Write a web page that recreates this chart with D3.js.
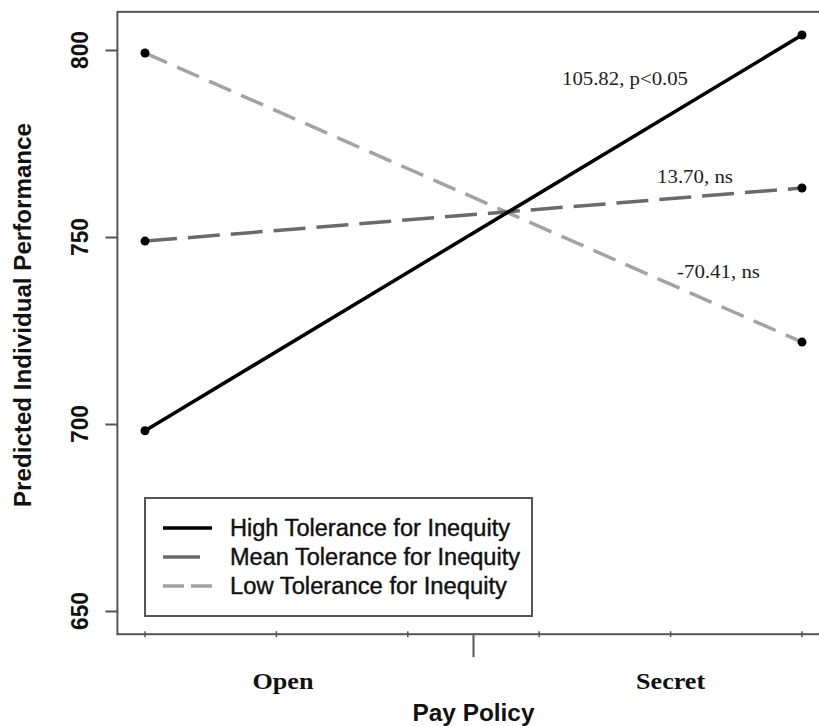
<!DOCTYPE html>
<html>
<head>
<meta charset="utf-8">
<script src="https://cdn.jsdelivr.net/npm/d3@7"></script>
<style>
  body { margin: 0; background: #fff; }
  #chart { width: 819px; height: 726px; }
</style>
</head>
<body>
<div id="chart"></div>
<script>
// data
const policies = ["Open", "Secret"];
const groups = ["High Tolerance for Inequity", "Mean Tolerance for Inequity", "Low Tolerance for Inequity"];
const highVals = [698.2, 804.0];
const meanVals = [748.9, 763.1];
const lowVals = [799.2, 721.9];
const slopeLabels = ["105.82, p<0.05", "13.70, ns", "-70.41, ns"];
const yTicks = [650, 700, 750, 800];
const xMinorTicks = [0, 0.2, 0.4, 0.6, 0.8, 1];

const width = 819;
const height = 726;

const svg = d3.select("#chart")
    .append("svg")
    .attr("width", width)
    .attr("height", height);

/*
SCALES (x: 0 = Open, 1 = Secret)
*/
const xScale = d3.scaleLinear()
    .domain([0, 1])
    .range([145, 802]);

const yScale = d3.scaleLinear()
    .domain([650, 800])
    .range([611, 50]);

const axisGrey = "#555";
const sans = "Liberation Sans, Arial, sans-serif";
const serif = "Liberation Serif, Times New Roman, serif";

/*
PLOT FRAME
*/
const x0 = xScale(-0.042), x1 = xScale(1.04);
const y0 = yScale(810.2), y1 = yScale(643.8);

svg.append("rect")
    .attr("x", x0)
    .attr("y", y0)
    .attr("width", x1 - x0)
    .attr("height", y1 - y0)
    .attr("fill", "none")
    .attr("stroke", axisGrey)
    .attr("stroke-width", 2);

/*
Y AXIS
*/
const yAxis = svg.append("g")
    .attr("transform", `translate(${x0},0)`)
    .call(d3.axisLeft(yScale).tickValues(yTicks).tickSize(12).tickFormat(""));
yAxis.select(".domain").remove();
yAxis.selectAll("line").attr("stroke", axisGrey).attr("stroke-width", 2);

svg.selectAll(".ytick-label")
    .data(yTicks)
    .enter()
    .append("text")
    .attr("class", "ytick-label")
    .attr("transform", d => `translate(88,${yScale(d)}) rotate(-90)`)
    .attr("text-anchor", "middle")
    .attr("font-family", sans)
    .attr("font-weight", "bold")
    .attr("font-size", 23)
    .attr("textLength", 38)
    .attr("lengthAdjust", "spacingAndGlyphs")
    .attr("fill", "#111")
    .text(d => d);

svg.append("text")
    .attr("transform", "translate(31,315) rotate(-90)")
    .attr("text-anchor", "middle")
    .attr("font-family", sans)
    .attr("font-weight", "bold")
    .attr("font-size", 23)
    .attr("textLength", 384)
    .attr("lengthAdjust", "spacingAndGlyphs")
    .attr("fill", "#111")
    .text("Predicted Individual Performance");

/*
X AXIS
*/
svg.selectAll(".xminor")
    .data(xMinorTicks)
    .enter()
    .append("line")
    .attr("class", "xminor")
    .attr("x1", d => xScale(d))
    .attr("x2", d => xScale(d))
    .attr("y1", y1 - 3)
    .attr("y2", y1 + 3)
    .attr("stroke", axisGrey)
    .attr("stroke-width", 1.5);

svg.append("line")
    .attr("x1", xScale(0.5))
    .attr("x2", xScale(0.5))
    .attr("y1", y1)
    .attr("y2", y1 + 23)
    .attr("stroke", axisGrey)
    .attr("stroke-width", 2);

svg.selectAll(".xlab")
    .data(policies)
    .enter()
    .append("text")
    .attr("class", "xlab")
    .attr("x", (d, i) => xScale(i === 0 ? 0.21 : 0.8))
    .attr("y", 689)
    .attr("text-anchor", "middle")
    .attr("font-family", serif)
    .attr("font-weight", "bold")
    .attr("font-size", 24)
    .attr("textLength", (d, i) => i === 0 ? 61 : 69)
    .attr("lengthAdjust", "spacingAndGlyphs")
    .attr("fill", "#111")
    .text(d => d);

svg.append("text")
    .attr("x", xScale(0.5))
    .attr("y", 721)
    .attr("text-anchor", "middle")
    .attr("font-family", sans)
    .attr("font-weight", "bold")
    .attr("font-size", 23)
    .attr("textLength", 122)
    .attr("lengthAdjust", "spacingAndGlyphs")
    .attr("fill", "#111")
    .text("Pay Policy");

/*
LINES + POINTS
*/
const series = [
    {name: groups[0], values: highVals, color: "#000", dash: null},
    {name: groups[1], values: meanVals, color: "#6a6a6a", dash: "32,11"},
    {name: groups[2], values: lowVals, color: "#a3a3a3", dash: "24,11"}
];

const line = d3.line()
    .x((d, i) => xScale(i))
    .y(d => yScale(d));

// draw low first so the high line sits on top
svg.selectAll(".series")
    .data(series.slice().reverse())
    .enter()
    .append("path")
    .attr("class", "series")
    .attr("d", d => line(d.values))
    .attr("fill", "none")
    .attr("stroke", d => d.color)
    .attr("stroke-width", 3.5)
    .attr("stroke-dasharray", d => d.dash);

series.forEach(s => {
    svg.selectAll(null)
        .data(s.values)
        .enter()
        .append("circle")
        .attr("cx", (d, i) => xScale(i))
        .attr("cy", d => yScale(d))
        .attr("r", 4.5)
        .attr("fill", "#000");
});

/*
SLOPE ANNOTATIONS
*/
const notePos = [{x: 562, y: 85, w: 126}, {x: 657, y: 183, w: 76}, {x: 677, y: 278, w: 83}];
svg.selectAll(".note")
    .data(slopeLabels)
    .enter()
    .append("text")
    .attr("class", "note")
    .attr("x", (d, i) => notePos[i].x)
    .attr("y", (d, i) => notePos[i].y)
    .attr("font-family", serif)
    .attr("font-size", 19)
    .attr("textLength", (d, i) => notePos[i].w)
    .attr("lengthAdjust", "spacingAndGlyphs")
    .attr("fill", "#222")
    .text(d => d);

/*
LEGEND
*/
const legend = svg.append("g");
legend.append("rect")
    .attr("x", 145)
    .attr("y", 498)
    .attr("width", 387)
    .attr("height", 118)
    .attr("fill", "#fff")
    .attr("stroke", axisGrey)
    .attr("stroke-width", 2);

const legendWidths = [280, 290, 277];
series.forEach((s, i) => {
    const ly = 528 + i * 29;
    legend.append("line")
        .attr("x1", 163)
        .attr("x2", 212)
        .attr("y1", ly)
        .attr("y2", ly)
        .attr("stroke", s.color)
        .attr("stroke-width", 3.5)
        .attr("stroke-dasharray", i === 1 ? "37,20" : (i === 2 ? "21,7" : null));
    legend.append("text")
        .attr("x", 230)
        .attr("y", ly + 8)
        .attr("font-family", sans)
        .attr("font-size", 23)
        .attr("textLength", legendWidths[i])
        .attr("lengthAdjust", "spacingAndGlyphs")
        .attr("fill", "#111")
        .attr("stroke", "#111")
        .attr("stroke-width", 0.4)
        .text(s.name);
});
</script>
</body>
</html>
